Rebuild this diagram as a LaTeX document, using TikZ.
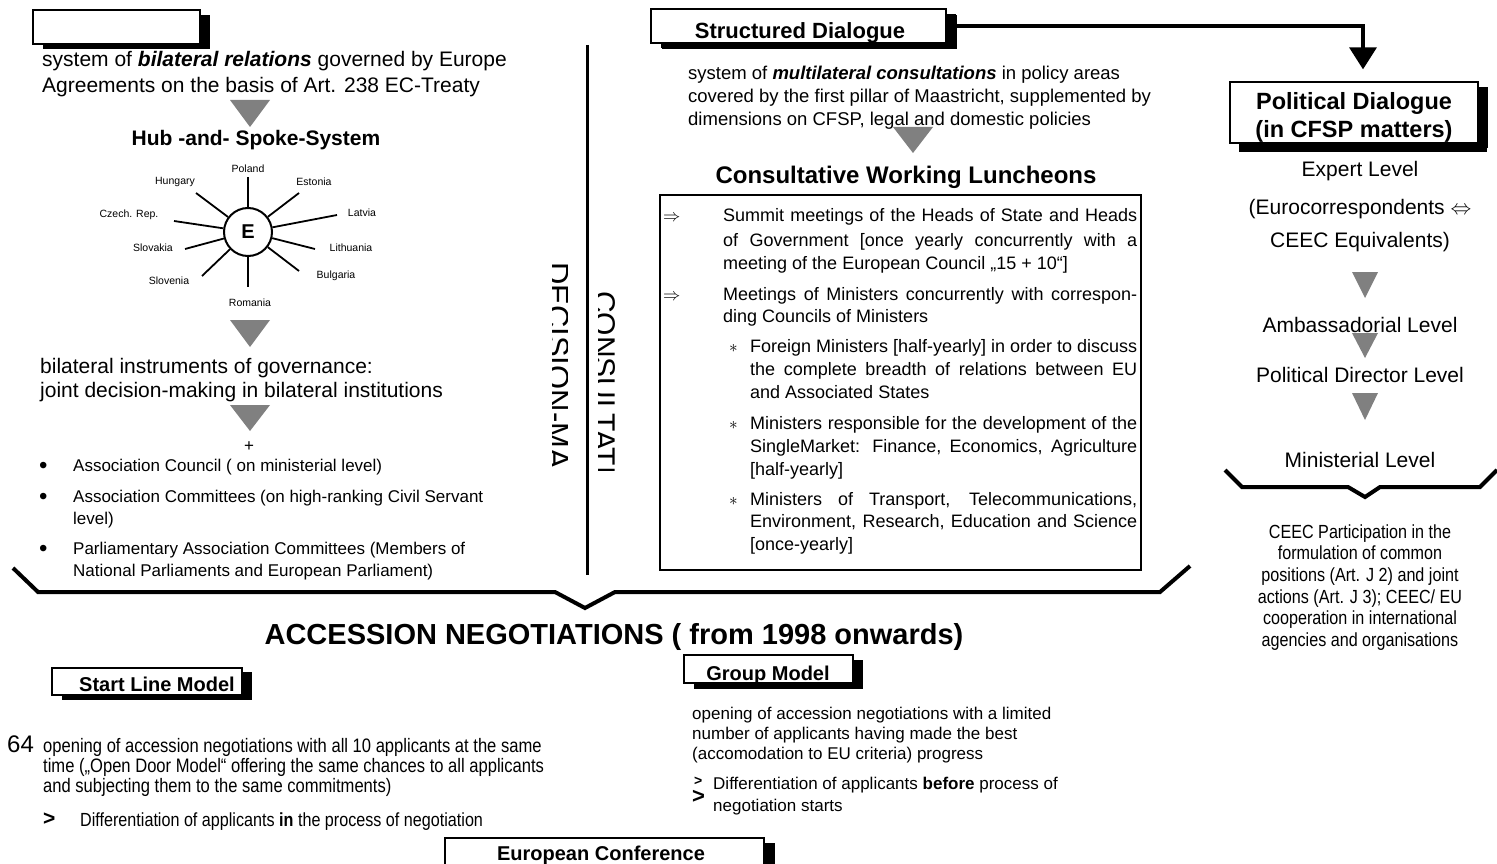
\documentclass[tikz,border=0pt]{standalone}
\usepackage{fontspec}
\setmainfont{Liberation Sans}
\newfontfamily\narrowfont[FakeStretch=0.85]{Liberation Sans}
\usetikzlibrary{arrows.meta,shadows}
\newcommand\fsz[1]{\fontsize{#1}{#1}\selectfont}
\newcommand\jline[2]{\makebox[#1][s]{#2}}
\definecolor{trigray}{gray}{0.5}
% downward grey triangle: centre x, top y, width, height
\newcommand\gtri[4]{\fill[trigray] (#1-#3/2,#2) -- (#1+#3/2,#2) -- (#1,#2+#4) -- cycle;}

\begin{document}
\begin{tikzpicture}[x=1pt,y=-1pt,
  txt/.style={inner sep=0pt, anchor=base west},
  ctxt/.style={inner sep=0pt, anchor=base},
  titlebox/.style={draw=black, line width=1.3pt, fill=white, inner sep=0pt,
    drop shadow={shadow xshift=10pt, shadow yshift=-5pt, fill=black, opacity=1}},
  bracket/.style={line width=4pt, line join=miter},
  spoke/.style={line width=1.8pt},
  lbl/.style={inner sep=0pt, font=\fsz{10.5}},
]
\useasboundingbox (0,0) rectangle (1497,864);
\fill[white] (0,0) rectangle (1497,864);

% ---------------- left column: decision-making ----------------
\node[titlebox, minimum width=167pt, minimum height=34pt] (dmbox) at (116.5,27) {};

\node[txt, font=\fsz{21}] (bil1) at (42,67) {system of \textbf{\textit{bilateral relations}} governed by Europe};
\node[txt, font=\fsz{21}] (bil2) at (42,93) {Agreements on the basis of Art. 238 EC-Treaty};
\gtri{250}{100}{40}{27}
\node[ctxt, font=\bfseries\fsz{21}] (hubtitle) at (256,146) {Hub -and- Spoke-System};

\node[circle, draw, line width=2pt, minimum size=48pt, inner sep=0pt, font=\bfseries\fsz{20}] (hub) at (248,232) {E};
\coordinate (sPol) at (248,177);
\coordinate (sHun) at (196,193);
\coordinate (sEst) at (299,193);
\coordinate (sCze) at (174,221);
\coordinate (sLat) at (337,215);
\coordinate (sSlk) at (185,249);
\coordinate (sLit) at (315,249);
\coordinate (sSlo) at (202,276);
\coordinate (sBul) at (299,271);
\coordinate (sRom) at (248,287);
\foreach \s in {sPol,sHun,sEst,sCze,sLat,sSlk,sLit,sSlo,sBul,sRom}
  \draw[spoke] (hub) -- (\s);
\node[lbl] (lPol) at (248,169) {Poland};
\node[lbl] (lHun) at (175,182) {Hungary};
\node[lbl] (lEst) at (314,182) {Estonia};
\node[lbl] (lCze) at (129,215) {Czech. Rep.};
\node[lbl] (lLat) at (362,213) {Latvia};
\node[lbl] (lSlk) at (153,248) {Slovakia};
\node[lbl] (lLit) at (351,248) {Lithuania};
\node[lbl] (lSlo) at (169,281) {Slovenia};
\node[lbl] (lBul) at (336,276) {Bulgaria};
\node[lbl] (lRom) at (250,303) {Romania};

\gtri{250}{320}{40}{27}
\node[txt, font=\fsz{21}] (inst1) at (40,373) {bilateral instruments of governance:};
\node[txt, font=\fsz{21}] (inst2) at (40,397) {joint decision-making in bilateral institutions};
\gtri{250}{405}{40}{26}
\node[inner sep=0pt, font=\fsz{17}] (plus) at (249,447) {+};

\begin{scope}[every node/.style={txt, font=\fsz{17}}]
\node[font=\fsz{24}] (b1) at (39,473) {•};
\node (t1) at (73,471) {Association Council ( on ministerial level)};
\node[font=\fsz{24}] (b2) at (39,504) {•};
\node (t2) at (73,502) {Association Committees (on high-ranking Civil Servant};
\node (t2b) at (73,524) {level)};
\node[font=\fsz{24}] (b3) at (39,556) {•};
\node (t3) at (73,554) {Parliamentary Association Committees (Members of};
\node (t3b) at (73,576) {National Parliaments and European Parliament)};
\end{scope}

% dividing line and vertical captions
\draw[line width=3pt] (587,45) -- (587,575);
\begin{scope}
  \clip (552,255) rectangle (567,468);
  \node[rotate=-90, anchor=base west, inner sep=0pt, font=\fsz{31}] (dmcap) at (547,262) {DECISION-MAKING};
\end{scope}
\begin{scope}
  \clip (598,285) rectangle (615,470);
  \node[rotate=-90, anchor=base west, inner sep=0pt, font=\fsz{30}] (cscap) at (594,291) {CONSULTATION};
\end{scope}

% ---------------- middle column: structured dialogue ----------------
\node[titlebox, minimum width=295pt, minimum height=34pt,
  drop shadow={shadow xshift=11pt, shadow yshift=-6pt, fill=black, opacity=1}] (sdbox) at (798.5,26) {};
\begin{scope}
  \clip ([shift={(1,-1)}]sdbox.south west) rectangle ([shift={(-1,1)}]sdbox.north east);
  \node[ctxt, font=\bfseries\fsz{22}] (sdtext) at (800,39) {Structured Dialogue};
\end{scope}

\node[txt, font=\fsz{18.5}] (ml1) at (688,80) {system of \textbf{\textit{multilateral consultations}} in policy areas};
\node[txt, font=\fsz{18.5}] (ml2) at (688,103) {covered by the first pillar of Maastricht, supplemented by};
\node[txt, font=\fsz{18.5}] (ml3) at (688,126) {dimensions on CFSP, legal and domestic policies};
\gtri{913}{127}{40}{26}
\node[ctxt, font=\bfseries\fsz{24}] (cwl) at (906,183) {Consultative Working Luncheons};

\node[draw, line width=2pt, minimum width=481pt, minimum height=375pt, inner sep=0pt] (lunch) at (900.5,382.5) {};
\begin{scope}[every node/.style={txt, font=\fsz{18}}]
\node (a1) at (663,222) {$\Rightarrow$};
\node (c1) at (723,222) {\jline{414pt}{Summit meetings of the Heads of State and Heads}};
\node (c2) at (723,246) {\jline{414pt}{of Government [once yearly concurrently with a}};
\node (c3) at (723,269) {meeting of the European Council „15 + 10“]};
\node (a2) at (663,300) {$\Rightarrow$};
\node (c4) at (723,300) {\jline{414pt}{Meetings of Ministers concurrently with correspon-}};
\node (c5) at (723,322) {ding Councils of Ministers};
\node (s1) at (729,352) {$\ast$};
\node (c6) at (750,352) {\jline{387pt}{Foreign Ministers [half-yearly] in order to discuss}};
\node (c7) at (750,375) {\jline{387pt}{the complete breadth of relations between EU}};
\node (c8) at (750,398) {and Associated States};
\node (s2) at (729,429) {$\ast$};
\node (c9) at (750,429) {\jline{387pt}{Ministers responsible for the development of the}};
\node (c10) at (750,452) {\jline{387pt}{SingleMarket: Finance, Economics, Agriculture}};
\node (c11) at (750,475) {[half-yearly]};
\node (s3) at (729,505) {$\ast$};
\node (c12) at (750,505) {\jline{387pt}{Ministers of Transport, Telecommunications,}};
\node (c13) at (750,527) {\jline{387pt}{Environment, Research, Education and Science}};
\node (c14) at (750,550) {[once-yearly]};
\end{scope}

% bracket closing both columns
\draw[bracket] (13,568) -- (38,592) -- (555,592) -- (585,608) -- (615,592) -- (1160,592) -- (1190,566);

% ---------------- right column: political dialogue ----------------
\node[titlebox, minimum width=248pt, minimum height=61pt,
  drop shadow={shadow xshift=9pt, shadow yshift=-9pt, fill=black, opacity=1}] (pdbox) at (1354,112.5) {};
\node[ctxt, font=\bfseries\fsz{23.5}] (pd1) at (1354,110) {Political Dialogue};
\node[ctxt, font=\bfseries\fsz{23.5}] (pd2) at (1354,138) {(in CFSP matters)};
\draw[line width=3.5pt, -{Triangle[length=22pt,width=27pt]}, shorten >=12pt]
  (sdbox.east) -| ([xshift=9pt]pdbox.north);

\begin{scope}[every node/.style={ctxt, font=\fsz{21}}]
\node (lv1) at (1360,177) {Expert Level};
\node (lv1b) at (1360,214) {(Eurocorrespondents $\Leftrightarrow$};
\node (lv1c) at (1360,247) {CEEC Equivalents)};
\node (lv2) at (1360,332) {Ambassadorial Level};
\node (lv3) at (1360,382) {Political Director Level};
\node (lv4) at (1360,467) {Ministerial Level};
\end{scope}
\gtri{1365}{272}{26}{26}
\gtri{1365}{333}{26}{25}
\gtri{1365}{393}{26}{27}
\draw[bracket] (1225,470) -- (1242,487) -- (1348,487) -- (1365,497) -- (1380,487) -- (1480,487) -- (1497,470);

\begin{scope}[every node/.style={ctxt, font=\narrowfont\fsz{19}}]
\node (pc1) at (1360,538) {CEEC Participation in the};
\node (pc2) at (1360,559) {formulation of common};
\node (pc3) at (1360,581) {positions (Art. J 2) and joint};
\node (pc4) at (1360,603) {actions (Art. J 3); CEEC/ EU};
\node (pc5) at (1360,624) {cooperation in international};
\node (pc6) at (1360,646) {agencies and organisations};
\end{scope}

% ---------------- accession negotiations ----------------
\node[ctxt, font=\bfseries\fsz{29}] (acc) at (614,644) {ACCESSION NEGOTIATIONS ( from 1998 onwards)};

\node[titlebox, minimum width=190pt, minimum height=27pt,
  drop shadow={shadow xshift=10pt, shadow yshift=-4pt, fill=black, opacity=1}] (slbox) at (147,681.5) {};
\node[ctxt, font=\bfseries\fsz{20}] (sltext) at (157,691) {Start Line Model};

\node[txt, font=\fsz{24}] (num) at (7,752) {64};
\begin{scope}[every node/.style={txt, font=\narrowfont\fsz{19.5}}]
\node (sl1) at (43,752) {opening of accession negotiations with all 10 applicants at the same};
\node (sl2) at (43,772) {time („Open Door Model“ offering the same chances to all applicants};
\node (sl3) at (43,792) {and subjecting them to the same commitments)};
\end{scope}
\node[txt, font=\bfseries\fsz{21}] (slarr) at (43,825) {>};
\node[txt, font=\narrowfont\fsz{19}] (sl4) at (80,826) {Differentiation of applicants \textbf{in} the process of negotiation};

\node[titlebox, minimum width=169pt, minimum height=28pt,
  drop shadow={shadow xshift=10pt, shadow yshift=-6pt, fill=black, opacity=1}] (gmbox) at (768.5,669) {};
\begin{scope}
  \clip ([shift={(1,-1)}]gmbox.south west) rectangle ([shift={(-1,1)}]gmbox.north east);
  \node[ctxt, font=\bfseries\fsz{20}] (gmtext) at (768,680) {Group Model};
\end{scope}
\begin{scope}[every node/.style={txt, font=\fsz{17}}]
\node (gm1) at (692,719) {opening of accession negotiations with a limited};
\node (gm2) at (692,739) {number of applicants having made the best};
\node (gm3) at (692,759) {(accomodation to EU criteria) progress};
\node (gm4) at (713,789) {Differentiation of applicants \textbf{before} process of};
\node (gm5) at (713,811) {negotiation starts};
\end{scope}
\node[txt, font=\bfseries\fsz{14}] (gmarr1) at (694,785) {>};
\node[txt, font=\bfseries\fsz{22}] (gmarr2) at (692,803) {>};

\node[titlebox, minimum width=319pt, minimum height=34pt,
  drop shadow={shadow xshift=11pt, shadow yshift=-5pt, fill=black, opacity=1}] (ecbox) at (604.5,855) {};
\node[ctxt, font=\bfseries\fsz{20}] (ectext) at (601,860) {European Conference};
\end{tikzpicture}
\end{document}
